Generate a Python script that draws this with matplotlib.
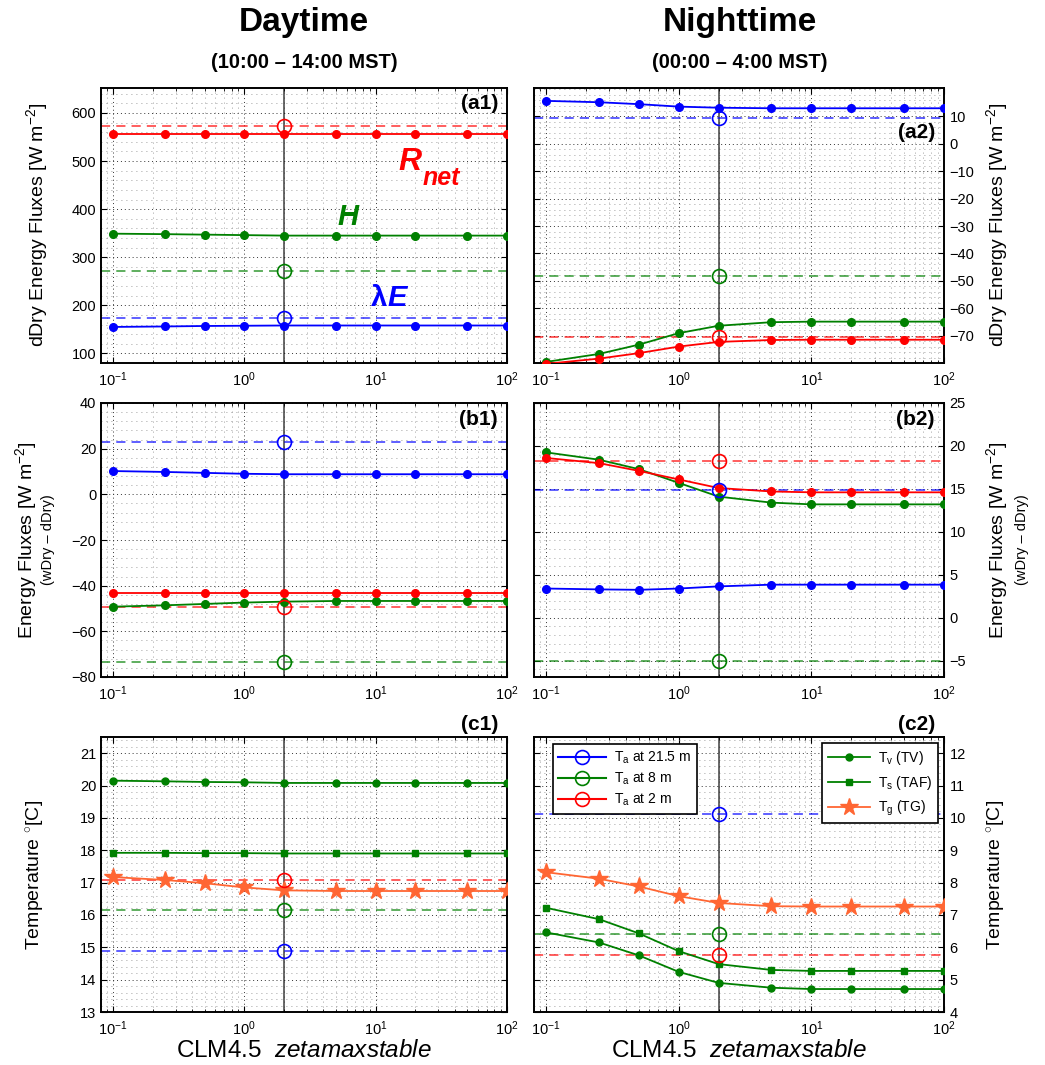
import numpy as np
import matplotlib
matplotlib.use('Agg')
import matplotlib.pyplot as plt
from matplotlib.ticker import AutoMinorLocator
from matplotlib.lines import Line2D

plt.rcParams['font.family'] = ['Liberation Sans', 'DejaVu Sans']
plt.rcParams['mathtext.fontset'] = 'custom'
plt.rcParams['mathtext.rm'] = 'Liberation Sans'
plt.rcParams['mathtext.it'] = 'Liberation Sans:italic'
plt.rcParams['mathtext.bf'] = 'Liberation Sans:bold'

# CLM4.5 zetamaxstable values tested (2 = default)
zeta = [0.1, 0.25, 0.5, 1, 2, 5, 10, 20, 50, 100]
zeta_default = 2.0

# (a1) daytime dDry fluxes
rnet_day = [557, 557, 557, 557, 557, 557, 557, 557, 557, 557]
h_day = [349, 348, 347, 346, 345, 345, 345, 345, 345, 345]
le_day = [155, 156, 157, 157.5, 158, 158, 158, 158, 158, 158]
obs_day = {'le': 173, 'h': 271, 'rnet': 573}

# (a2) nighttime dDry fluxes
le_night = [15.7, 15.2, 14.5, 13.6, 13.2, 13.0, 13.0, 13.0, 13.0, 13.0]
h_night = [-79.6, -76.7, -73.3, -69.1, -66.4, -65.1, -64.9, -64.9, -64.9, -64.9]
rnet_night = [-80.3, -78.4, -76.4, -74.0, -72.3, -71.6, -71.5, -71.5, -71.5, -71.5]
obs_night = {'le': 9.4, 'h': -48.4, 'rnet': -70.4}

# (b1) daytime wDry - dDry
le_dday = [10.2, 9.8, 9.4, 9.0, 8.8, 8.8, 8.8, 8.8, 8.8, 8.8]
h_dday = [-49.2, -48.6, -48.0, -47.4, -47.0, -46.7, -46.7, -46.7, -46.7, -46.7]
rnet_dday = [-43, -43, -43, -43, -43, -43, -43, -43, -43, -43]
obs_dday = {'le': 22.8, 'h': -73.5, 'rnet': -49.5}

# (b2) nighttime wDry - dDry
le_dnight = [3.4, 3.3, 3.25, 3.4, 3.65, 3.85, 3.85, 3.85, 3.85, 3.85]
h_dnight = [19.25, 18.4, 17.3, 15.7, 14.1, 13.4, 13.2, 13.2, 13.2, 13.2]
rnet_dnight = [18.6, 18.0, 17.1, 16.1, 15.1, 14.7, 14.6, 14.6, 14.6, 14.6]
obs_dnight = {'le': 14.9, 'h': -5.0, 'rnet': 18.2}

# (c1)/(c2) temperatures
tv_day = [20.15, 20.13, 20.11, 20.10, 20.08, 20.08, 20.08, 20.08, 20.08, 20.08]
ts_day = [17.92, 17.92, 17.91, 17.91, 17.90, 17.90, 17.90, 17.90, 17.90, 17.90]
tg_day = [17.17, 17.08, 16.98, 16.85, 16.76, 16.74, 16.74, 16.74, 16.74, 16.74]
ta_day = {'21.5': 14.89, '8': 16.15, '2': 17.09}

tv_night = [6.46, 6.15, 5.75, 5.24, 4.90, 4.75, 4.71, 4.71, 4.71, 4.71]
ts_night = [7.22, 6.87, 6.43, 5.88, 5.48, 5.30, 5.27, 5.27, 5.27, 5.27]
tg_night = [8.32, 8.12, 7.88, 7.58, 7.37, 7.27, 7.26, 7.26, 7.26, 7.26]
ta_night = {'21.5': 10.12, '8': 6.41, '2': 5.75}

BLUE = '#0000ff'
GREEN = '#008000'
RED = '#ff0000'
ORANGE = '#ff6633'

fig = plt.figure(figsize=(10.45, 10.65), dpi=100)
W, H = 1045.0, 1065.0


def make_ax(left, top, right, bottom):
    return fig.add_axes([left / W, 1 - bottom / H, (right - left) / W, (bottom - top) / H])


def style(ax, ylim, yticks, right=False):
    ax.set_xscale('log')
    ax.set_xlim(0.081, 100)
    ax.set_ylim(*ylim)
    ax.set_yticks(yticks)
    ax.yaxis.set_minor_locator(AutoMinorLocator(5))
    ax.grid(True, which='major', linestyle=(0, (1, 3)), color='0.2', lw=0.7)
    ax.grid(True, which='minor', linestyle=(0, (1, 5)), color='0.5', lw=0.6)
    ax.tick_params(which='both', direction='in', top=True, right=True, labelsize=10.5)
    ax.tick_params(which='major', length=4)
    ax.tick_params(axis='y', which='minor', length=0)
    ax.tick_params(axis='x', which='minor', length=2)
    ax.tick_params(axis='x', which='major', pad=5)
    if right:
        ax.tick_params(axis='y', labelleft=False, labelright=True, pad=4)
    for s in ax.spines.values():
        s.set_linewidth(1.4)
    ax.axvline(zeta_default, color='k', lw=1.1, alpha=0.75, zorder=2)


def obs_line(ax, val, color):
    ax.axhline(val, color=color, ls='--', dashes=(6, 4), lw=1.1, alpha=0.8, zorder=2)
    ax.plot([zeta_default], [val], 'o', mfc='none', mec=color, ms=10, mew=1.2, zorder=4)


def flux_panel(ax, le, h, rnet, obs):
    obs_line(ax, obs['le'], BLUE)
    obs_line(ax, obs['h'], GREEN)
    obs_line(ax, obs['rnet'], RED)
    ax.plot(zeta, le, '-o', color=BLUE, ms=5.5, lw=1.3, zorder=3)
    ax.plot(zeta, h, '-o', color=GREEN, ms=5.5, lw=1.3, zorder=3)
    ax.plot(zeta, rnet, '-o', color=RED, ms=5.5, lw=1.3, zorder=3)


def temp_panel(ax, tv, ts, tg, ta):
    obs_line(ax, ta['21.5'], BLUE)
    obs_line(ax, ta['8'], GREEN)
    obs_line(ax, ta['2'], RED)
    ax.plot(zeta, tv, '-o', color=GREEN, ms=5, lw=1.3, zorder=3)
    ax.plot(zeta, ts, '-s', color=GREEN, ms=5, lw=1.3, zorder=3)
    ax.plot(zeta, tg, '-*', color=ORANGE, ms=13, lw=1.3, zorder=3)


ax_a1 = make_ax(101, 88, 507, 363)
ax_a2 = make_ax(534, 88, 944, 363)
ax_b1 = make_ax(101, 403, 507, 677)
ax_b2 = make_ax(534, 403, 944, 677)
ax_c1 = make_ax(101, 737, 507, 1012)
ax_c2 = make_ax(534, 737, 944, 1012)

style(ax_a1, (80, 652), range(100, 601, 100))
style(ax_a2, (-80, 20.4), range(-70, 11, 10), right=True)
style(ax_b1, (-80, 40), range(-80, 41, 20))
style(ax_b2, (-6.9, 25), range(-5, 26, 5), right=True)
style(ax_c1, (13, 21.5), range(13, 22))
style(ax_c2, (4, 12.5), range(4, 13), right=True)

flux_panel(ax_a1, le_day, h_day, rnet_day, obs_day)
flux_panel(ax_a2, le_night, h_night, rnet_night, obs_night)
flux_panel(ax_b1, le_dday, h_dday, rnet_dday, obs_dday)
flux_panel(ax_b2, le_dnight, h_dnight, rnet_dnight, obs_dnight)
temp_panel(ax_c1, tv_day, ts_day, tg_day, ta_day)
temp_panel(ax_c2, tv_night, ts_night, tg_night, ta_night)

# flux names in (a1)
ax_a1.text(18.4, 499, 'R', color=RED, fontsize=23, fontweight='bold', style='italic',
           ha='center', va='center')
ax_a1.text(31.6, 465, 'net', color=RED, fontsize=18, fontweight='bold', style='italic',
           ha='center', va='center')
ax_a1.text(6.2, 384, 'H', color=GREEN, fontsize=21, fontweight='bold', style='italic',
           ha='center', va='center')
ax_a1.text(12.3, 216, '\u03bb', color=BLUE, fontsize=21, fontweight='bold',
           ha='right', va='center')
ax_a1.text(12.3, 216, 'E', color=BLUE, fontsize=21, fontweight='bold', style='italic',
           ha='left', va='center')

# panel tags
tags = [(ax_a1, '(a1)', 0.945), (ax_a2, '(a2)', 0.84), (ax_b1, '(b1)', 0.938),
        (ax_b2, '(b2)', 0.938), (ax_c1, '(c1)', 1.045), (ax_c2, '(c2)', 1.045)]
for ax, t, yy in tags:
    ax.text(0.978, yy, t, transform=ax.transAxes, ha='right', va='center',
            fontsize=15, fontweight='bold')

# legends in (c2)
h_ta = [Line2D([], [], color=BLUE, marker='o', mfc='none', ms=10, mew=1.2),
        Line2D([], [], color=GREEN, marker='o', mfc='none', ms=10, mew=1.2),
        Line2D([], [], color=RED, marker='o', mfc='none', ms=10, mew=1.2)]
leg1 = ax_c2.legend(h_ta, ['T$_\\mathregular{a}$ at 21.5 m', 'T$_\\mathregular{a}$ at 8 m',
                           'T$_\\mathregular{a}$ at 2 m'],
                    loc='upper left', bbox_to_anchor=(0.046, 0.975), borderaxespad=0,
                    fontsize=10, handlelength=3.4, labelspacing=0.35, handletextpad=0.6,
                    fancybox=False, edgecolor='k', framealpha=1)
leg1.get_frame().set_linewidth(1.2)
ax_c2.add_artist(leg1)
h_t = [Line2D([], [], color=GREEN, marker='o', ms=5, lw=1.3),
       Line2D([], [], color=GREEN, marker='s', ms=5, lw=1.3),
       Line2D([], [], color=ORANGE, marker='*', ms=13, lw=1.3)]
leg2 = ax_c2.legend(h_t, ['T$_\\mathregular{v}$ (TV)', 'T$_\\mathregular{s}$ (TAF)',
                          'T$_\\mathregular{g}$ (TG)'],
                    loc='upper right', bbox_to_anchor=(0.985, 0.978), borderaxespad=0,
                    fontsize=10, handlelength=3.0, labelspacing=0.5, handletextpad=0.6,
                    fancybox=False, edgecolor='k', framealpha=1)
leg2.get_frame().set_linewidth(1.2)

# column titles
fig.text(304 / W, 1 - 22 / H, 'Daytime', ha='center', va='center', fontsize=24, fontweight='bold')
fig.text(304 / W, 1 - 62 / H, '(10:00 \u2013 14:00 MST)', ha='center', va='center',
         fontsize=14.5, fontweight='bold')
fig.text(740 / W, 1 - 22 / H, 'Nighttime', ha='center', va='center', fontsize=24, fontweight='bold')
fig.text(740 / W, 1 - 62 / H, '(00:00 \u2013 4:00 MST)', ha='center', va='center',
         fontsize=14.5, fontweight='bold')

# y labels
lab_flux = 'dDry Energy Fluxes [W m$^{\\mathregular{-2}}$]'
lab_diff = 'Energy Fluxes [W m$^{\\mathregular{-2}}$]'
lab_temp = 'Temperature $^{\\circ}$[C]'
for x, y, s, fs in [(37, 225, lab_flux, 14), (997, 225, lab_flux, 14),
                    (26, 540, lab_diff, 14), (997, 540, lab_diff, 14),
                    (48, 540, '(wDry \u2013 dDry)', 10.5), (1022, 540, '(wDry \u2013 dDry)', 10.5),
                    (36, 875, lab_temp, 14), (997, 875, lab_temp, 14)]:
    fig.text(x / W, 1 - y / H, s, rotation=90, ha='center', va='center', fontsize=fs)

# x labels
for ax in (ax_c1, ax_c2):
    ax.set_xlabel('CLM4.5  $\\mathit{zetamaxstable}$', fontsize=17.5, labelpad=2)

fig.savefig('out.png', dpi=100)
